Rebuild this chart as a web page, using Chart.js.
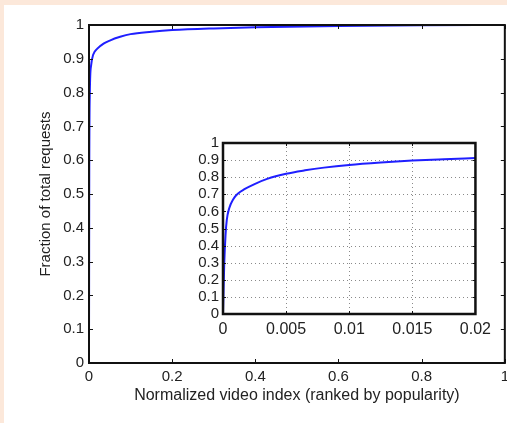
<!DOCTYPE html>
<html><head><meta charset="utf-8">
<script src="https://cdn.jsdelivr.net/npm/chart.js@4/dist/chart.umd.min.js"></script>
<style>
html,body{margin:0;padding:0;width:507px;height:423px;overflow:hidden;background:#fce8da;}
#main{position:absolute;left:4px;top:5px;width:510px;height:418px;background:#fff;}
#inset{position:absolute;left:185px;top:130px;width:312px;height:220px;}
</style></head><body>
<div id="main"><canvas id="c1"></canvas></div>
<div id="inset"><canvas id="c2"></canvas></div>
<script>
// Main curve (fraction of total requests vs normalized video index)
const mainX = [0, 0.0005, 0.002, 0.005, 0.01, 0.02, 0.035, 0.05, 0.075, 0.1, 0.15, 0.2, 0.3, 0.4, 0.6, 0.8, 1];
const mainY = [0, 0.5, 0.8, 0.88, 0.912, 0.93, 0.945, 0.954, 0.965, 0.973, 0.98, 0.985, 0.99, 0.993, 0.997, 0.999, 1];
// Inset curve (zoom on first 2% of videos)
const insetX = [0, 0.0001, 0.0002, 0.0003, 0.0005, 0.0008, 0.0012, 0.0017, 0.0025, 0.0035, 0.005, 0.0065, 0.008, 0.01, 0.0125, 0.015, 0.0175, 0.02];
const insetY = [0, 0.3, 0.46, 0.55, 0.62, 0.67, 0.705, 0.73, 0.76, 0.79, 0.82, 0.84, 0.856, 0.872, 0.886, 0.897, 0.905, 0.912];
// Tick values
const mainXTicks = [0, 0.2, 0.4, 0.6, 0.8, 1];
const mainYTicks = [0, 0.1, 0.2, 0.3, 0.4, 0.5, 0.6, 0.7, 0.8, 0.9, 1];
const insetXTicks = [0, 0.005, 0.01, 0.015, 0.02];
const insetYTicks = [0, 0.1, 0.2, 0.3, 0.4, 0.5, 0.6, 0.7, 0.8, 0.9, 1];
const xTitle = 'Normalized video index (ranked by popularity)';
const yTitle = 'Fraction of total requests';

const FONT = '"Liberation Sans", Arial, Helvetica, sans-serif';
const TXT = '#222';
const LINE = '#1f1fff';

const framePlugin = {
  id: 'frame',
  beforeDatasetsDraw(chart, args, o) {
    if (!o.grid) return;
    const {ctx, chartArea: a, scales: {x, y}} = chart;
    ctx.save();
    ctx.strokeStyle = o.gridColor; ctx.lineWidth = 1; ctx.setLineDash(o.gridDash);
    x.ticks.forEach(t => {
      const px = Math.round(x.getPixelForValue(t.value)) + 0.5;
      ctx.beginPath(); ctx.moveTo(px, a.top); ctx.lineTo(px, a.bottom); ctx.stroke();
    });
    y.ticks.forEach(t => {
      const py = Math.round(y.getPixelForValue(t.value)) + 0.5;
      ctx.beginPath(); ctx.moveTo(a.left, py); ctx.lineTo(a.right, py); ctx.stroke();
    });
    ctx.restore();
  },
  afterDraw(chart, args, o) {
    const {ctx, chartArea: a, scales: {x, y}} = chart;
    ctx.save();
    ctx.strokeStyle = '#111';
    ctx.lineWidth = 1;
    const L = o.tick;
    x.ticks.forEach(t => {
      const px = Math.round(x.getPixelForValue(t.value)) + 0.5;
      ctx.beginPath();
      ctx.moveTo(px, a.bottom); ctx.lineTo(px, a.bottom - L);
      ctx.moveTo(px, a.top); ctx.lineTo(px, a.top + L);
      ctx.stroke();
    });
    y.ticks.forEach(t => {
      const py = Math.round(y.getPixelForValue(t.value)) + 0.5;
      ctx.beginPath();
      ctx.moveTo(a.left, py); ctx.lineTo(a.left + L, py);
      ctx.moveTo(a.right, py); ctx.lineTo(a.right - L, py);
      ctx.stroke();
    });
    ctx.lineWidth = o.lw;
    ctx.strokeRect(a.left, a.top, a.right - a.left, a.bottom - a.top);
    ctx.restore();
  }
};

function makeChart(id, xs, ys, xt, yt, cfg) {
  const pts = xs.map((v, i) => ({x: v, y: ys[i]}));
  return new Chart(document.getElementById(id), {
    type: 'line',
    data: {datasets: [{data: pts, borderColor: LINE, borderWidth: 2, pointRadius: 0,
      cubicInterpolationMode: 'monotone', fill: false}]},
    plugins: [framePlugin],
    options: {
      responsive: true, maintainAspectRatio: false, animation: false,
      layout: {padding: cfg.pad},
      plugins: {legend: {display: false}, tooltip: {enabled: false},
        frame: {lw: cfg.lw, tick: cfg.tick, grid: cfg.grid, gridColor: '#8a8a8a', gridDash: [1, 3]}},
      scales: {
        x: {type: 'linear', min: xt[0], max: xt[xt.length - 1],
          afterBuildTicks: s => { s.ticks = xt.map(v => ({value: v})); },
          afterFit: s => { s.height = cfg.xh; },
          ticks: {callback: v => String(v), font: {family: FONT, size: cfg.fsx}, color: TXT,
            padding: cfg.xpad, maxRotation: 0, autoSkip: false},
          grid: {display: false, drawTicks: false}, border: {display: false},
          title: cfg.xTitle ? {display: true, text: cfg.xTitle, color: TXT,
            font: {family: FONT, size: 16}, padding: {top: 0, bottom: cfg.xtpad}} : {display: false}},
        y: {type: 'linear', min: yt[0], max: yt[yt.length - 1],
          afterBuildTicks: s => { s.ticks = yt.map(v => ({value: v})); },
          afterFit: s => { s.width = cfg.yw; },
          ticks: {callback: v => String(v), font: {family: FONT, size: cfg.fsy}, color: TXT,
            padding: cfg.ypad, autoSkip: false},
          grid: {display: false, drawTicks: false}, border: {display: false},
          title: cfg.yTitle ? {display: true, text: cfg.yTitle, color: TXT,
            font: {family: FONT, size: 15}, padding: {top: cfg.ytpad, bottom: 0}} : {display: false}}
      }
    }
  });
}

makeChart('c1', mainX, mainY, mainXTicks, mainYTicks, {
  pad: {top: 20, right: 9, left: 0, bottom: 0}, xh: 60, yw: 85, fsx: 15, fsy: 15,
  xpad: 5, ypad: 5, lw: 2, tick: 4, grid: false,
  xTitle: xTitle, yTitle: yTitle, xtpad: 18, ytpad: 33
});
makeChart('c2', insetX, insetY, insetXTicks, insetYTicks, {
  pad: {top: 13, right: 20, left: 0, bottom: 0}, xh: 36, yw: 38, fsx: 16, fsy: 15,
  xpad: 6, ypad: 4, lw: 2.5, tick: 3, grid: true
});
</script>
</body></html>
